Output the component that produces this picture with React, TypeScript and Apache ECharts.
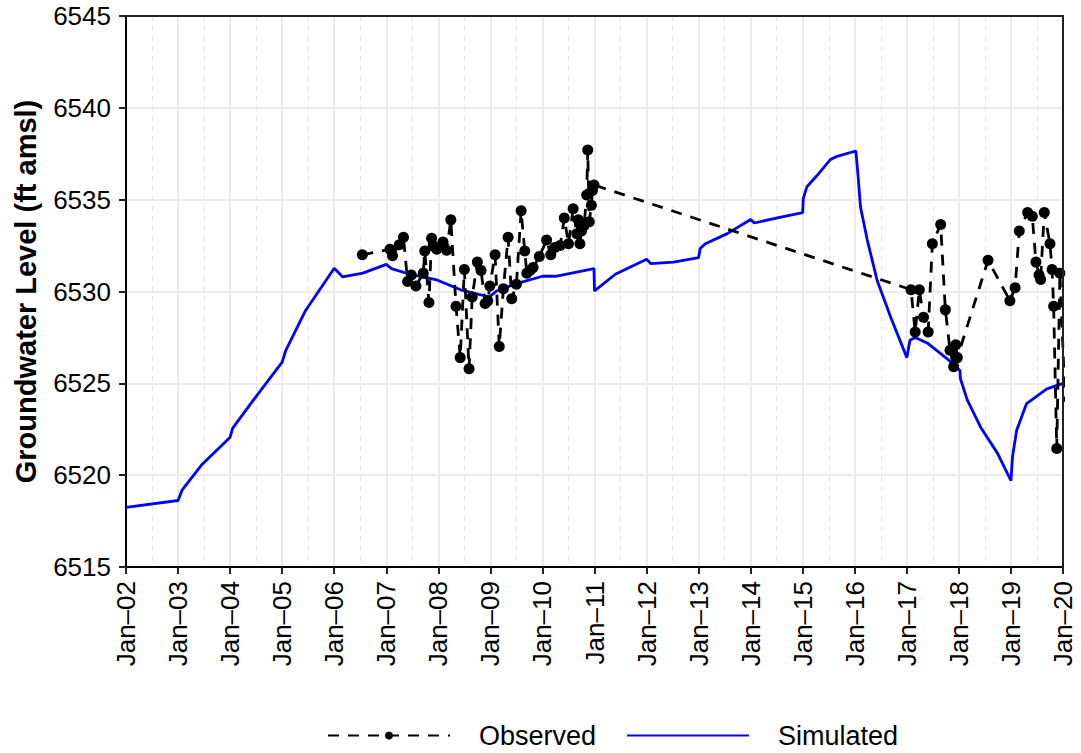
import React, { useEffect, useRef } from "react";
import * as echarts from "echarts";

// Decimal years and groundwater levels (ft amsl)
const simYears = [
  2002.0, 2003.0, 2003.08, 2003.45, 2004.0, 2004.05, 2004.45, 2005.0, 2005.07, 2005.45,
  2006.0, 2006.16, 2006.55, 2007.0, 2007.1, 2007.5, 2007.95, 2008.45, 2008.98, 2009.12,
  2009.5, 2010.0, 2010.25, 2010.99, 2011.0, 2011.4, 2012.0, 2012.08, 2012.52, 2013.0,
  2013.03, 2013.13, 2013.55, 2014.0, 2014.07, 2014.58, 2015.0, 2015.01, 2015.08, 2015.27,
  2015.53, 2015.66, 2016.02, 2016.06, 2016.11, 2016.24, 2016.43, 2016.69, 2017.0, 2017.06,
  2017.16, 2017.39, 2017.77, 2018.02, 2018.03, 2018.16, 2018.42, 2018.74, 2019.0, 2019.03,
  2019.11, 2019.3, 2019.69, 2020.0,
];
const simLevels = [
  6518.25, 6518.62, 6519.2, 6520.55, 6522.07, 6522.56, 6524.1, 6526.15, 6526.8, 6528.97,
  6531.27, 6530.8, 6531.0, 6531.48, 6531.25, 6530.9, 6530.65, 6530.07, 6529.7, 6530.03,
  6530.43, 6530.83, 6530.83, 6531.25, 6530.03, 6530.94, 6531.76, 6531.52, 6531.6, 6531.85,
  6532.34, 6532.6, 6533.15, 6533.92, 6533.73, 6534.05, 6534.3, 6535.06, 6535.7, 6536.3,
  6537.18, 6537.36, 6537.65, 6536.4, 6534.6, 6532.8, 6530.6, 6528.6, 6526.4, 6527.35,
  6527.5, 6527.2, 6526.35, 6525.7, 6525.25, 6524.1, 6522.6, 6521.2, 6519.7, 6521.0,
  6522.45, 6523.9, 6524.7, 6525.0,
];

const obsYears = [
  2006.54, 2007.07, 2007.12, 2007.25, 2007.33, 2007.41, 2007.48, 2007.57, 2007.71, 2007.74,
  2007.82, 2007.87, 2007.9, 2007.97, 2008.09, 2008.16, 2008.24, 2008.34, 2008.42, 2008.5,
  2008.59, 2008.65, 2008.75, 2008.82, 2008.9, 2008.95, 2008.99, 2009.09, 2009.17, 2009.25,
  2009.34, 2009.41, 2009.5, 2009.59, 2009.66, 2009.7, 2009.76, 2009.82, 2009.94, 2010.08,
  2010.16, 2010.24, 2010.34, 2010.42, 2010.5, 2010.59, 2010.66, 2010.69, 2010.72, 2010.75,
  2010.8, 2010.85, 2010.87, 2010.9, 2010.94, 2010.96, 2010.99, 2017.08, 2017.16, 2017.24,
  2017.32, 2017.41, 2017.49, 2017.65, 2017.74, 2017.83, 2017.9, 2017.94, 2017.97, 2018.56,
  2018.98, 2019.08, 2019.16, 2019.32, 2019.41, 2019.48, 2019.54, 2019.57, 2019.64, 2019.75,
  2019.79, 2019.82, 2019.88, 2019.94, 2020.04,
];
const obsLevels = [
  6532.0, 6532.3, 6531.95, 6532.55, 6532.95, 6530.55, 6530.9, 6530.3, 6531.0, 6532.2,
  6529.4, 6532.9, 6532.5, 6532.3, 6532.7, 6532.25, 6533.9, 6529.2, 6526.4, 6531.2,
  6525.8, 6529.7, 6531.6, 6531.15, 6529.35, 6529.5, 6530.3, 6532.0, 6527.0, 6530.15,
  6532.95, 6529.6, 6530.4, 6534.4, 6532.2, 6531.0, 6531.15, 6531.3, 6531.9, 6532.8,
  6532.0, 6532.4, 6532.5, 6534.0, 6532.6, 6534.5, 6533.15, 6533.9, 6532.6, 6533.3,
  6533.6, 6535.25, 6537.7, 6533.8, 6534.7, 6535.5, 6535.8, 6530.1, 6527.8, 6530.1,
  6528.6, 6527.8, 6532.6, 6533.65, 6529.0, 6526.8, 6525.9, 6527.1, 6526.4, 6531.7,
  6529.5, 6530.2, 6533.3, 6534.3, 6534.1, 6531.6, 6530.9, 6530.65, 6534.3, 6532.6,
  6531.2, 6529.2, 6521.45, 6531.0, 6524.0,
];

const xTickLabels = [
  "Jan–02", "Jan–03", "Jan–04", "Jan–05", "Jan–06", "Jan–07", "Jan–08", "Jan–09", "Jan–10",
  "Jan–11", "Jan–12", "Jan–13", "Jan–14", "Jan–15", "Jan–16", "Jan–17", "Jan–18", "Jan–19", "Jan–20",
];
const yTicks = [6515, 6520, 6525, 6530, 6535, 6540, 6545];

const FONT = "'Liberation Sans', Arial, Helvetica, sans-serif";

export default function App() {
  const ref = useRef<HTMLDivElement>(null);
  useEffect(() => {
    if (!ref.current) return;
    const chart = echarts.init(ref.current, null, { renderer: "svg" });
    const obsData = obsYears.map((y, i) => [y, obsLevels[i]]);
    const simData = simYears.map((y, i) => [y, simLevels[i]]);
    const xMin = 2002;
    const xMax = 2020;
    const frameAxis = {
      z: 10,
      axisLine: { show: true, onZero: false, lineStyle: { color: "#222", width: 2 } },
      axisTick: { show: false },
      axisLabel: { show: false },
      splitLine: { show: false },
    };
    chart.setOption({
      animation: false,
      backgroundColor: "#ffffff",
      textStyle: { fontFamily: FONT },
      grid: {
        left: 126,
        right: 18,
        top: 16,
        bottom: 186,
      },
      legend: {
        left: 322,
        top: 717,
        itemWidth: 122,
        itemHeight: 10,
        itemGap: 30,
        textStyle: { fontSize: 27, color: "#000", fontFamily: FONT, padding: [0, 0, 0, 24] },
        data: [
          { name: "Observed" },
          { name: "Simulated", itemStyle: { color: "rgba(0,0,0,0)", borderWidth: 0, opacity: 0 } },
        ],
      },
      xAxis: [
        {
          type: "value",
          min: xMin,
          max: xMax,
          interval: 1,
          axisLine: { show: true, onZero: false, lineStyle: { color: "#000", width: 2 } },
          axisTick: { show: true, length: 7, lineStyle: { color: "#222", width: 2 } },
          axisLabel: {
            rotate: 90,
            margin: 14,
            fontSize: 26,
            color: "#000",
            fontFamily: FONT,
            formatter: (v: number) => xTickLabels[Math.round(v - xMin)] ?? "",
          },
          splitLine: { show: true, lineStyle: { color: "#EBEBEB", width: 2 } },
          minorTick: { show: false, splitNumber: 2 },
          minorSplitLine: { show: true, lineStyle: { color: "#E6E6E6", width: 1, type: [5, 5] } },
        },
        { type: "value", position: "top", min: xMin, max: xMax, ...frameAxis },
      ],
      yAxis: [
        {
          type: "value",
          min: yTicks[0],
          max: yTicks[yTicks.length - 1],
          interval: 5,
          name: "Groundwater Level (ft amsl)",
          nameLocation: "middle",
          nameGap: 86,
          nameTextStyle: { fontSize: 29, fontWeight: "bold", color: "#000", fontFamily: FONT },
          axisLine: { show: true, onZero: false, lineStyle: { color: "#000", width: 2 } },
          axisTick: { show: true, length: 7, lineStyle: { color: "#222", width: 2 } },
          axisLabel: {
            margin: 15,
            fontSize: 26,
            color: "#000",
            fontFamily: FONT,
            formatter: (v: number) => String(v),
          },
          splitLine: { show: true, lineStyle: { color: "#EBEBEB", width: 2 } },
        },
        {
          type: "value",
          position: "right",
          min: yTicks[0],
          max: yTicks[yTicks.length - 1],
          ...frameAxis,
        },
      ],
      series: [
        {
          name: "Observed",
          type: "line",
          data: obsData,
          z: 4,
          symbol: "circle",
          symbolSize: 11,
          showSymbol: true,
          showAllSymbol: true,
          clip: true,
          itemStyle: { color: "#000" },
          lineStyle: { color: "#000", width: 2.8, type: [11, 9] },
        },
        {
          name: "Simulated",
          type: "line",
          data: simData,
          z: 3,
          symbol: "none",
          showSymbol: false,
          itemStyle: { color: "#0000FF" },
          lineStyle: { color: "#0000FF", width: 2.8 },
        },
      ],
    });
    return () => chart.dispose();
  }, []);
  return (
    <div
      ref={ref}
      style={{ position: "absolute", left: 0, top: 0, width: 1081, height: 753, background: "#fff" }}
    />
  );
}
